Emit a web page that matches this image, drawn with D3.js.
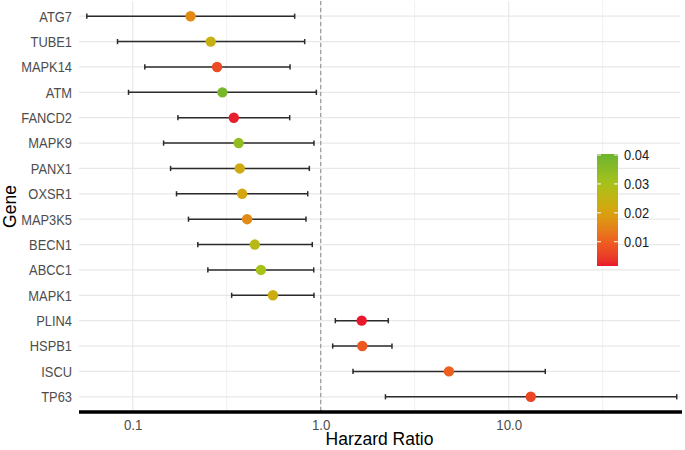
<!DOCTYPE html>
<html>
<head>
<meta charset="utf-8">
<script src="https://cdn.jsdelivr.net/npm/d3@7"></script>
<style>
  html, body { margin: 0; padding: 0; background: #fff; }
  svg { display: block; font-family: "Liberation Sans", Arial, Helvetica, sans-serif; }
</style>
</head>
<body>
<svg id="chart" width="685" height="450"></svg>
<script>
// ---- data ----
const genes = ["ATG7","TUBE1","MAPK14","ATM","FANCD2","MAPK9","PANX1","OXSR1","MAP3K5","BECN1","ABCC1","MAPK1","PLIN4","HSPB1","ISCU","TP63"];
const hr    = [0.203, 0.260, 0.281, 0.300, 0.345, 0.366, 0.371, 0.382, 0.406, 0.446, 0.481, 0.557, 1.652, 1.664, 4.81, 13.1];
const lower = [0.057, 0.083, 0.116, 0.095, 0.174, 0.146, 0.159, 0.171, 0.198, 0.222, 0.251, 0.336, 1.196, 1.158, 1.485, 2.21];
const upper = [0.727, 0.822, 0.687, 0.948, 0.684, 0.921, 0.870, 0.853, 0.835, 0.902, 0.918, 0.921, 2.288, 2.394, 15.65, 78.3];
const pval  = [0.016, 0.024, 0.007, 0.038, 0.002, 0.034, 0.022, 0.021, 0.016, 0.027, 0.030, 0.023, 0.0016, 0.009, 0.010, 0.006];
const xTicks = [0.1, 1, 10];
const xTickLabels = ["0.1", "1.0", "10.0"];
const xMinor = [0.316, 3.16, 31.6];
const legendTicks = [0.01, 0.02, 0.03, 0.04];
const pRange = [0.0016, 0.04035];
const colorStopsP = [0.0016, 0.01, 0.02, 0.03, 0.04035];
const colorStops  = ["#E8192C", "#EE5E1E", "#D8A20E", "#A8C21A", "#6AB42E"];

// ---- layout ----
const svg = d3.select("#chart");
const panel = { left: 79, right: 680, top: 1, bottom: 412 };
const font = '"Liberation Sans", Arial, Helvetica, sans-serif';

const x = d3.scaleLog().domain([0.0518, 81.5]).range([panel.left, panel.right]);
const y = d3.scalePoint().domain(genes).range([panel.top, panel.bottom]).padding(0.6);
const color = d3.scaleLinear().domain(colorStopsP).range(colorStops).interpolate(d3.interpolateLab).clamp(true);

const data = genes.map((g, i) => ({ gene: g, hr: hr[i], lo: lower[i], hi: upper[i], p: pval[i] }));

// grid
const grid = svg.append("g");
grid.selectAll("line.minor").data(xMinor).join("line")
  .attr("x1", d => x(d)).attr("x2", d => x(d))
  .attr("y1", panel.top).attr("y2", panel.bottom)
  .attr("stroke", "#EBEBEB").attr("stroke-width", 0.7);
grid.selectAll("line.vmaj").data(xTicks).join("line")
  .attr("x1", d => x(d)).attr("x2", d => x(d))
  .attr("y1", panel.top).attr("y2", panel.bottom)
  .attr("stroke", "#E8E8E8").attr("stroke-width", 1.2);
grid.selectAll("line.hmaj").data(genes).join("line")
  .attr("x1", panel.left).attr("x2", panel.right)
  .attr("y1", d => y(d)).attr("y2", d => y(d))
  .attr("stroke", "#E8E8E8").attr("stroke-width", 1.2);

// reference line at HR = 1
svg.append("line")
  .attr("x1", x(1)).attr("x2", x(1))
  .attr("y1", panel.top).attr("y2", panel.bottom)
  .attr("stroke", "#9A9A9A").attr("stroke-width", 1.2)
  .attr("stroke-dasharray", "4,3");

// legend (color bar)
const lg = { x: 597, w: 21 };
const ly = d3.scaleLinear().domain(pRange).range([266, 154]);
const defs = svg.append("defs");
const grad = defs.append("linearGradient").attr("id", "pgrad")
  .attr("x1", 0).attr("y1", 1).attr("x2", 0).attr("y2", 0);
d3.range(0, 1.0001, 0.05).forEach(t => {
  const p = pRange[0] + t * (pRange[1] - pRange[0]);
  grad.append("stop").attr("offset", t).attr("stop-color", color(p));
});
svg.append("rect").attr("x", lg.x).attr("y", ly(pRange[1]))
  .attr("width", lg.w).attr("height", ly(pRange[0]) - ly(pRange[1]))
  .attr("fill", "url(#pgrad)");
const lt = svg.append("g");
lt.selectAll("line.l").data(legendTicks).join("line")
  .attr("x1", lg.x).attr("x2", lg.x + 4)
  .attr("y1", d => ly(d)).attr("y2", d => ly(d))
  .attr("stroke", "#fff").attr("stroke-width", 1);
lt.selectAll("line.r").data(legendTicks).join("line")
  .attr("x1", lg.x + lg.w - 4).attr("x2", lg.x + lg.w)
  .attr("y1", d => ly(d)).attr("y2", d => ly(d))
  .attr("stroke", "#fff").attr("stroke-width", 1);
lt.selectAll("text").data(legendTicks).join("text")
  .attr("transform", d => `translate(${lg.x + lg.w + 6},${ly(d)}) scale(0.92,1)`)
  .attr("dy", "0.35em")
  .attr("font-size", 14).attr("fill", "#1A1A1A")
  .text(d => d.toFixed(2));

// error bars
const eb = svg.append("g").attr("stroke", "#2B2B2B").attr("stroke-width", 1.5);
eb.selectAll("line.h").data(data).join("line")
  .attr("x1", d => x(d.lo)).attr("x2", d => x(d.hi))
  .attr("y1", d => y(d.gene)).attr("y2", d => y(d.gene));
eb.selectAll("line.cl").data(data).join("line")
  .attr("x1", d => x(d.lo)).attr("x2", d => x(d.lo))
  .attr("y1", d => y(d.gene) - 2.6).attr("y2", d => y(d.gene) + 2.6);
eb.selectAll("line.ch").data(data).join("line")
  .attr("x1", d => x(d.hi)).attr("x2", d => x(d.hi))
  .attr("y1", d => y(d.gene) - 2.6).attr("y2", d => y(d.gene) + 2.6);

// points
svg.append("g").selectAll("circle").data(data).join("circle")
  .attr("cx", d => x(d.hr)).attr("cy", d => y(d.gene))
  .attr("r", 5.2).attr("fill", d => color(d.p));

// bottom thick axis line
svg.append("line")
  .attr("x1", panel.left).attr("x2", panel.right + 2)
  .attr("y1", panel.bottom).attr("y2", panel.bottom)
  .attr("stroke", "#000").attr("stroke-width", 3.5);

// y axis labels
const yAxis = d3.axisLeft(y).tickSize(0).tickPadding(0);
const yg = svg.append("g").attr("transform", `translate(${panel.left - 7},0)`).call(yAxis);
yg.select(".domain").remove();
yg.selectAll("text")
  .attr("x", null).attr("dy", "0.35em")
  .attr("transform", "scale(0.92,1)")
  .attr("font-family", font).attr("font-size", 14).attr("fill", "#4D4D4D");

// x axis labels
const xAxis = d3.axisBottom(x).tickValues(xTicks).tickFormat((d, i) => xTickLabels[i]).tickSize(0).tickPadding(0);
const xg = svg.append("g").attr("transform", `translate(0,${panel.bottom + 18})`).call(xAxis);
xg.select(".domain").remove();
xg.selectAll("text")
  .attr("y", 0).attr("dy", null)
  .attr("transform", "scale(0.95,1)")
  .attr("font-family", font).attr("font-size", 14).attr("fill", "#4D4D4D");

// axis titles
svg.append("text")
  .attr("x", (panel.left + panel.right) / 2).attr("y", 445)
  .attr("text-anchor", "middle")
  .attr("font-size", 17.5).attr("fill", "#000")
  .text("Harzard Ratio");
svg.append("text")
  .attr("transform", `translate(16,${(panel.top + panel.bottom) / 2}) rotate(-90)`)
  .attr("text-anchor", "middle")
  .attr("font-size", 17.5).attr("fill", "#000")
  .text("Gene");
</script>
</body>
</html>
